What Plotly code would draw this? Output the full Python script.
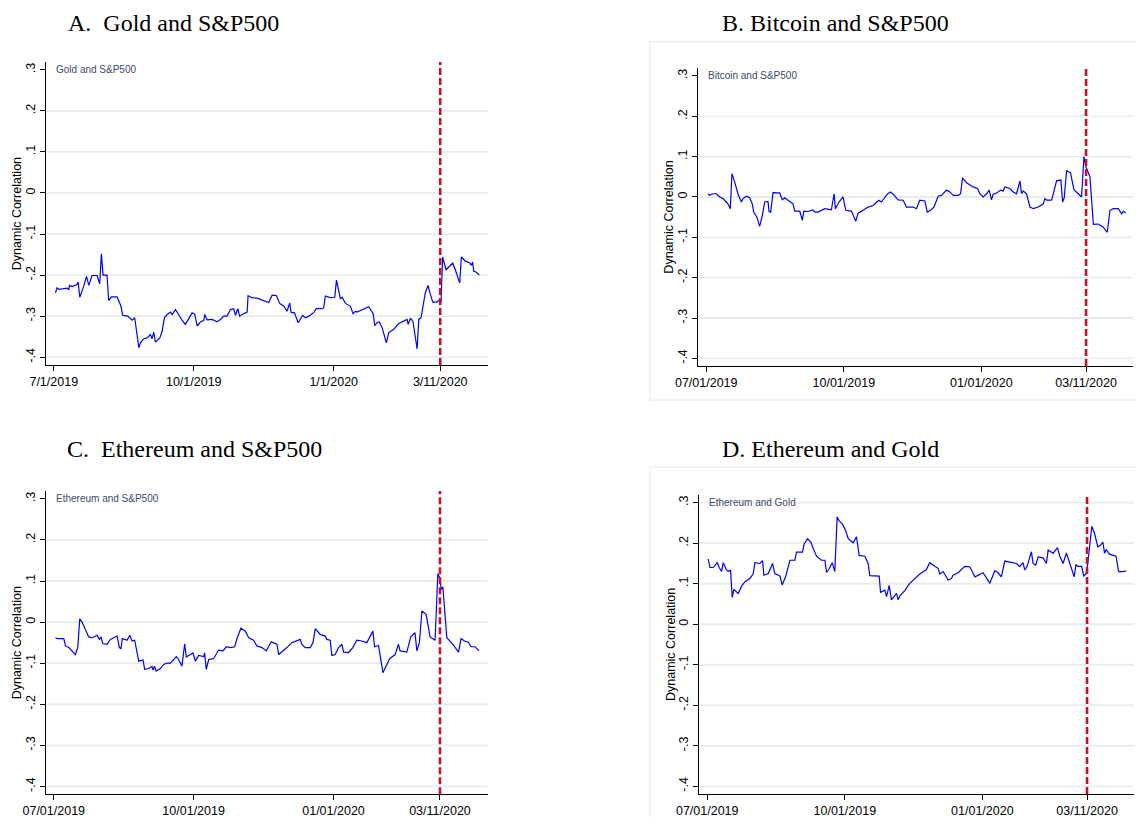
import pandas as pd
import plotly.graph_objects as go

# ---------------- data ----------------
base_date = "2019-07-01"
event_date = "2020-03-11"

tick_dates = ["2019-07-01", "2019-10-01", "2020-01-01", "2020-03-11"]
tick_labels_a = ["7/1/2019", "10/1/2019", "1/1/2020", "3/11/2020"]
tick_labels_b = ["07/01/2019", "10/01/2019", "01/01/2020", "03/11/2020"]
y_tick_vals = [-0.4, -0.3, -0.2, -0.1, 0.0, 0.1, 0.2, 0.3]
y_tick_text = ["-.4", "-.3", "-.2", "-.1", "0", ".1", ".2", ".3"]

titles = ["A.  Gold and S&P500", "B. Bitcoin and S&P500",
          "C.  Ethereum and S&P500", "D. Ethereum and Gold"]
inner_labels = ["Gold and S&P500", "Bitcoin and S&P500",
                "Ethereum and S&P500", "Ethereum and Gold"]
y_title = "Dynamic Correlation"

# days since 2019-07-01 and dynamic correlation values
gold_sp_days = [
    1.1, 2.2, 3.3, 5.5, 8.8, 9.9, 10.3, 12.0, 15.3, 16.0,
    17.1, 19.7, 21.5, 23.0, 25.2, 28.5, 30.2, 31.3, 32.4, 35.0,
    36.1, 37.9, 41.6, 44.2, 45.3, 48.6, 51.5, 53.2, 55.9, 57.0,
    59.1, 61.3, 63.5, 64.6, 65.7, 66.8, 69.7, 71.2, 72.7, 74.5,
    76.7, 77.8, 80.0, 82.1, 84.3, 86.5, 88.7, 90.9, 92.7, 94.2,
    96.4, 98.6, 99.2, 100.8, 104.1, 107.3, 109.5, 111.7, 113.9, 116.1,
    118.3, 119.4, 120.9, 122.2, 123.8, 127.1, 127.7, 130.3, 133.6, 138.0,
    141.3, 143.5, 146.3, 148.5, 151.2, 153.3, 155.1, 156.0, 158.2, 160.6,
    162.1, 163.6, 165.4, 167.6, 170.9, 172.6, 176.3, 177.4, 178.5, 181.8,
    184.7, 185.8, 188.4, 189.5, 191.7, 195.0, 196.7, 198.2, 199.3, 202.6,
    207.0, 209.9, 211.0, 212.5, 214.0, 215.8, 217.3, 218.6, 220.2, 223.4,
    226.7, 230.0, 232.2, 232.9, 234.4, 236.1, 238.8, 239.9, 241.4, 244.2,
    246.0, 247.5, 249.1, 251.9, 253.4, 254.5, 255.6, 257.8, 259.6, 262.2,
    263.9, 266.8, 267.9, 270.5, 273.3, 274.4, 275.3, 276.0, 277.7, 279.7,
]
gold_sp_corr = [
    -0.243, -0.231, -0.235, -0.234, -0.232, -0.236, -0.225, -0.228, -0.223, -0.217,
    -0.254, -0.227, -0.203, -0.225, -0.201, -0.201, -0.221, -0.148, -0.200, -0.200,
    -0.262, -0.253, -0.253, -0.276, -0.298, -0.300, -0.310, -0.304, -0.377, -0.365,
    -0.355, -0.353, -0.345, -0.355, -0.339, -0.363, -0.353, -0.337, -0.304, -0.296,
    -0.290, -0.296, -0.284, -0.296, -0.310, -0.320, -0.306, -0.292, -0.296, -0.324,
    -0.314, -0.310, -0.296, -0.309, -0.308, -0.314, -0.308, -0.300, -0.300, -0.284,
    -0.282, -0.298, -0.282, -0.300, -0.296, -0.290, -0.250, -0.255, -0.256, -0.263,
    -0.267, -0.249, -0.250, -0.269, -0.276, -0.288, -0.268, -0.291, -0.292, -0.316,
    -0.308, -0.298, -0.304, -0.300, -0.291, -0.281, -0.282, -0.280, -0.251, -0.255,
    -0.254, -0.212, -0.258, -0.254, -0.269, -0.276, -0.294, -0.288, -0.290, -0.284,
    -0.277, -0.294, -0.323, -0.316, -0.314, -0.328, -0.350, -0.365, -0.340, -0.332,
    -0.318, -0.312, -0.308, -0.320, -0.305, -0.313, -0.380, -0.308, -0.304, -0.243,
    -0.225, -0.247, -0.266, -0.266, -0.260, -0.268, -0.156, -0.187, -0.180, -0.171,
    -0.187, -0.219, -0.156, -0.166, -0.170, -0.176, -0.168, -0.190, -0.193, -0.200,
]

btc_sp_days = [
    1.2, 2.3, 4.5, 6.7, 9.0, 11.2, 13.4, 14.5, 16.1, 17.2,
    19.0, 21.2, 23.5, 24.6, 26.8, 29.0, 30.8, 31.7, 33.9, 35.7,
    37.5, 39.1, 41.3, 42.0, 43.1, 44.7, 46.9, 49.1, 50.9, 52.5,
    54.7, 58.0, 59.2, 62.5, 64.3, 65.2, 68.1, 71.4, 72.6, 74.8,
    79.2, 83.7, 85.5, 86.4, 88.8, 91.5, 93.3, 97.1, 100.0, 101.6,
    104.9, 108.3, 111.6, 115.4, 117.2, 121.0, 123.2, 125.0, 128.3, 131.7,
    133.9, 138.4, 140.6, 142.8, 146.2, 147.8, 150.0, 152.3, 155.1, 157.3,
    160.7, 162.9, 165.2, 168.5, 170.1, 171.4, 174.1, 176.3, 178.5, 181.4,
    183.0, 185.2, 187.5, 189.2, 190.8, 191.9, 194.2, 196.9, 198.6, 199.7,
    203.1, 205.3, 207.5, 209.8, 210.9, 212.0, 214.2, 216.5, 218.7, 222.0,
    225.4, 226.5, 227.7, 231.0, 234.3, 237.2, 238.3, 239.4, 241.0, 243.6,
    245.9, 248.8, 251.0, 252.6, 253.9, 255.5, 256.6, 258.9, 262.2, 265.5,
    268.2, 270.0, 272.2, 275.6, 277.8, 279.0, 280.5,
]
btc_sp_corr = [
    0.008, 0.004, 0.008, 0.008, 0.000, -0.004, -0.0125, -0.017, -0.029, 0.058,
    0.0375, 0.008, -0.0125, -0.004, 0.002, -0.002, -0.017, -0.0375, -0.050, -0.073,
    -0.046, -0.0125, -0.011, -0.036, -0.0375, 0.011, 0.010, 0.010, -0.007, -0.002,
    -0.008, -0.017, -0.035, -0.035, -0.058, -0.035, -0.036, -0.032, -0.0375, -0.0375,
    -0.029, -0.032, 0.008, -0.029, -0.0125, 0.000, -0.033, -0.035, -0.060, -0.040,
    -0.033, -0.025, -0.021, -0.008, -0.0125, 0.007, 0.0125, 0.007, -0.007, -0.008,
    -0.025, -0.025, -0.029, -0.008, -0.010, -0.0375, -0.033, -0.025, 0.002, 0.004,
    0.017, 0.0125, 0.004, 0.004, 0.008, 0.0475, 0.035, 0.029, 0.025, 0.021,
    0.008, 0.000, 0.008, 0.017, -0.007, 0.007, 0.010, 0.017, 0.015, 0.025,
    0.021, 0.0125, 0.008, 0.040, 0.008, 0.015, 0.008, -0.025, -0.029, -0.025,
    -0.017, -0.004, -0.008, -0.008, 0.040, 0.042, -0.0125, -0.002, 0.065, 0.060,
    0.018, 0.008, 0.000, 0.100, 0.075, 0.060, 0.050, -0.068, -0.067, -0.075,
    -0.0875, -0.033, -0.029, -0.029, -0.042, -0.035, -0.040,
]

eth_sp_days = [
    1.1, 2.6, 6.6, 7.7, 9.9, 12.0, 14.2, 15.8, 17.1, 18.6,
    21.5, 23.0, 25.2, 28.5, 30.0, 31.1, 32.2, 35.0, 37.2, 41.6,
    43.2, 44.2, 45.1, 48.2, 50.0, 51.5, 53.2, 55.9, 58.7, 59.8,
    62.4, 64.6, 65.3, 66.2, 67.3, 70.1, 72.3, 74.5, 76.7, 78.9,
    80.6, 82.1, 84.3, 86.1, 87.2, 89.8, 91.6, 93.1, 95.3, 98.6,
    99.2, 100.3, 101.9, 105.1, 108.4, 111.3, 113.5, 116.1, 119.0, 120.5,
    123.1, 126.0, 128.2, 131.4, 133.6, 136.9, 139.8, 143.0, 146.8, 147.9,
    150.1, 153.3, 156.6, 159.9, 162.1, 163.1, 165.4, 168.7, 170.5, 172.0,
    175.2, 178.5, 179.6, 181.8, 182.9, 185.1, 187.3, 189.5, 190.6, 193.9,
    196.7, 199.3, 202.6, 205.9, 207.7, 209.9, 211.0, 213.6, 216.5, 219.1,
    220.9, 224.5, 226.7, 227.8, 232.2, 234.8, 237.6, 238.8, 240.5, 242.1,
    244.9, 247.5, 250.8, 252.6, 254.1, 254.8, 255.9, 258.5, 260.7, 262.5,
    266.2, 267.9, 270.1, 272.7, 274.5, 277.1, 279.7,
]
eth_sp_corr = [
    -0.038, -0.040, -0.040, -0.058, -0.062, -0.070, -0.079, -0.062, 0.008, 0.000,
    -0.022, -0.036, -0.038, -0.032, -0.042, -0.036, -0.052, -0.054, -0.042, -0.034,
    -0.062, -0.065, -0.040, -0.044, -0.032, -0.046, -0.044, -0.095, -0.092, -0.115,
    -0.113, -0.108, -0.117, -0.107, -0.119, -0.113, -0.103, -0.100, -0.100, -0.091,
    -0.084, -0.091, -0.107, -0.053, -0.085, -0.079, -0.075, -0.095, -0.081, -0.084,
    -0.075, -0.115, -0.091, -0.089, -0.068, -0.070, -0.060, -0.062, -0.060, -0.040,
    -0.015, -0.022, -0.038, -0.044, -0.058, -0.062, -0.070, -0.048, -0.054, -0.079,
    -0.073, -0.062, -0.050, -0.046, -0.042, -0.054, -0.062, -0.062, -0.050, -0.016,
    -0.030, -0.034, -0.042, -0.044, -0.081, -0.079, -0.062, -0.054, -0.073, -0.074,
    -0.062, -0.044, -0.046, -0.050, -0.038, -0.022, -0.060, -0.057, -0.123, -0.103,
    -0.089, -0.079, -0.054, -0.070, -0.073, -0.036, -0.026, -0.070, -0.050, 0.027,
    0.019, -0.036, -0.044, 0.118, 0.105, 0.079, 0.086, -0.038, -0.046, -0.054,
    -0.073, -0.040, -0.046, -0.049, -0.060, -0.060, -0.070,
]

eth_gold_days = [
    0.7, 1.8, 4.0, 6.7, 8.0, 9.6, 10.7, 12.9, 14.0, 15.6,
    16.7, 17.8, 20.7, 23.0, 25.2, 28.5, 30.7, 31.9, 35.2, 37.0,
    37.9, 40.8, 43.7, 45.2, 48.6, 50.1, 52.4, 55.3, 58.6, 59.7,
    63.7, 64.8, 67.1, 69.3, 70.9, 73.1, 76.4, 78.7, 79.8, 81.3,
    83.6, 85.3, 86.9, 88.2, 90.5, 92.7, 94.3, 97.6, 99.8, 101.6,
    105.4, 107.6, 108.7, 112.1, 115.0, 115.9, 118.8, 119.9, 121.7, 123.2,
    126.6, 127.7, 128.8, 132.1, 135.0, 137.7, 142.2, 146.6, 148.8, 152.2,
    154.4, 155.5, 157.8, 161.1, 163.3, 164.4, 167.8, 172.2, 175.6, 179.0,
    184.5, 189.0, 192.3, 194.5, 196.7, 199.0, 206.8, 209.0, 211.2, 212.3,
    213.9, 216.8, 217.9, 219.7, 221.3, 224.6, 226.8, 228.0, 231.3, 234.2,
    235.8, 238.0, 240.2, 242.5, 245.4, 246.6, 247.8, 250.4, 251.8, 253.3,
    254.5, 257.2, 259.0, 261.2, 263.0, 264.6, 265.7, 266.8, 269.0, 273.4,
    275.1, 278.1, 280.3,
]
eth_gold_corr = [
    0.161, 0.140, 0.140, 0.152, 0.140, 0.130, 0.152, 0.134, 0.130, 0.134,
    0.066, 0.086, 0.076, 0.094, 0.105, 0.113, 0.124, 0.152, 0.150, 0.157,
    0.121, 0.125, 0.150, 0.125, 0.119, 0.097, 0.117, 0.158, 0.158, 0.178,
    0.178, 0.198, 0.211, 0.203, 0.187, 0.168, 0.158, 0.158, 0.128, 0.135,
    0.152, 0.130, 0.265, 0.255, 0.247, 0.230, 0.211, 0.201, 0.216, 0.170,
    0.168, 0.150, 0.120, 0.120, 0.119, 0.079, 0.084, 0.068, 0.096, 0.060,
    0.076, 0.060, 0.070, 0.083, 0.099, 0.109, 0.124, 0.135, 0.152, 0.143,
    0.138, 0.124, 0.130, 0.109, 0.113, 0.121, 0.127, 0.143, 0.142, 0.117,
    0.127, 0.101, 0.132, 0.127, 0.117, 0.156, 0.150, 0.142, 0.152, 0.134,
    0.143, 0.179, 0.150, 0.146, 0.166, 0.164, 0.150, 0.183, 0.175, 0.189,
    0.168, 0.150, 0.176, 0.150, 0.117, 0.148, 0.143, 0.143, 0.119, 0.124,
    0.150, 0.242, 0.224, 0.191, 0.195, 0.203, 0.175, 0.184, 0.173, 0.168,
    0.130, 0.130, 0.132,
]

series_days = [gold_sp_days, btc_sp_days, eth_sp_days, eth_gold_days]
series_corr = [gold_sp_corr, btc_sp_corr, eth_sp_corr, eth_gold_corr]

# ---------------- layout geometry ----------------
# target page pixels (1144x825 window); the html body adds an 8px margin,
# so the figure itself is drawn 8px in from the top-left corner.
OFF = 8
W, H = 1128, 809


def fx(px):
    return (px - OFF) / W


def fy(py):
    return 1 - (py - OFF) / H


# plot boxes: left, right, top, bottom (page px)
boxes = [(45.7, 488.0, 62.0, 365.0),
         (698.3, 1133.0, 68.3, 366.0),
         (45.7, 487.7, 491.0, 794.3),
         (699.3, 1134.0, 495.0, 794.0)]
title_pos = [(66, 23), (720, 23), (65, 449), (720, 449)]
ytitle_x = [16.7, 669.5, 16.7, 670.5]
grid_from_top = [False, False, False, True]

fig = go.Figure()
base = pd.Timestamp(base_date)
ev = pd.Timestamp(event_date)
x_range = [base - pd.Timedelta(days=5.3), ev + pd.Timedelta(days=31.4)]
y_range = [-0.419, 0.319]

font_sans = "Liberation Sans, Arial, sans-serif"
font_serif = "Liberation Serif, Times New Roman, serif"
grid_col = "#e6edf1"

for i in range(4):
    n = i + 1
    sfx = "" if n == 1 else str(n)
    l, r, t, b = boxes[i]
    dates = base + pd.to_timedelta(series_days[i], unit="D")
    fig.add_trace(go.Scatter(
        x=dates, y=series_corr[i], mode="lines",
        line=dict(color="#0000ff", width=1.2),
        xaxis="x" + sfx, yaxis="y" + sfx, showlegend=False,
        hoverinfo="x+y"))

    fig.layout["xaxis" + sfx] = dict(
        domain=[fx(l), fx(r)], anchor="y" + sfx, type="date",
        range=x_range, tickvals=tick_dates, automargin=False,
        ticktext=tick_labels_a if i == 0 else tick_labels_b,
        ticks="outside", ticklen=5, tickcolor="black", tickwidth=1,
        showline=True, linecolor="black", linewidth=1,
        showgrid=False, zeroline=False,
        tickfont=dict(family=font_sans, size=12.5, color="black"))
    fig.layout["yaxis" + sfx] = dict(
        domain=[fy(b), fy(t)], anchor="x" + sfx, automargin=False,
        range=y_range, tickvals=y_tick_vals, ticktext=y_tick_text,
        tickangle=-90, ticks="outside", ticklen=5, tickcolor="black",
        tickwidth=1, showline=True, linecolor="black", linewidth=1,
        showgrid=False, zeroline=False,
        tickfont=dict(family=font_sans, size=12.5, color="black"))

    # y-axis title
    fig.add_annotation(text=y_title, xref="paper", yref=f"y{sfx} domain",
                       x=fx(ytitle_x[i]), y=0.5, textangle=-90,
                       xanchor="center", yanchor="middle", showarrow=False,
                       font=dict(family=font_sans, size=12.5, color="black"))

    # horizontal grid lines at the tick values
    for v in y_tick_vals:
        if v > 0.25 and not grid_from_top[i]:
            continue
        fig.add_shape(type="line", xref=f"x{sfx} domain", yref="y" + sfx,
                      x0=0, x1=1, y0=v, y1=v, layer="below",
                      line=dict(color=grid_col, width=1.8))

    # event marker
    fig.add_shape(type="line", xref="x" + sfx, yref=f"y{sfx} domain",
                  x0=event_date, x1=event_date, y0=0, y1=1,
                  line=dict(color="#c8102e", width=2.6, dash="7px,3px"))

    # inner label
    fig.add_annotation(text=inner_labels[i], xref=f"x{sfx} domain",
                       yref="y" + sfx, x=(8.0 / (r - l)), y=0.3,
                       xanchor="left", yanchor="middle", showarrow=False,
                       font=dict(family=font_sans, size=10, color="#3e4a6c"))

    # panel title
    tx, ty = title_pos[i]
    fig.add_annotation(text=titles[i], xref="paper", yref="paper",
                       x=fx(tx), y=fy(ty), xanchor="left",
                       yanchor="middle", showarrow=False,
                       font=dict(family=font_serif, size=24, color="black"))

# light frames around panels B and D
fig.add_shape(type="rect", xref="paper", yref="paper",
              x0=fx(650), x1=1.02, y0=fy(400), y1=fy(41.7),
              line=dict(color="#e4ecf0", width=1), layer="below")
fig.add_shape(type="rect", xref="paper", yref="paper",
              x0=fx(650), x1=1.02, y0=-0.03, y1=fy(467),
              line=dict(color="#e4ecf0", width=1), layer="below")

fig.update_layout(width=W, height=H, margin=dict(l=0, r=0, t=0, b=0),
                  paper_bgcolor="white", plot_bgcolor="white",
                  showlegend=False)

fig.write_html("out.html")
